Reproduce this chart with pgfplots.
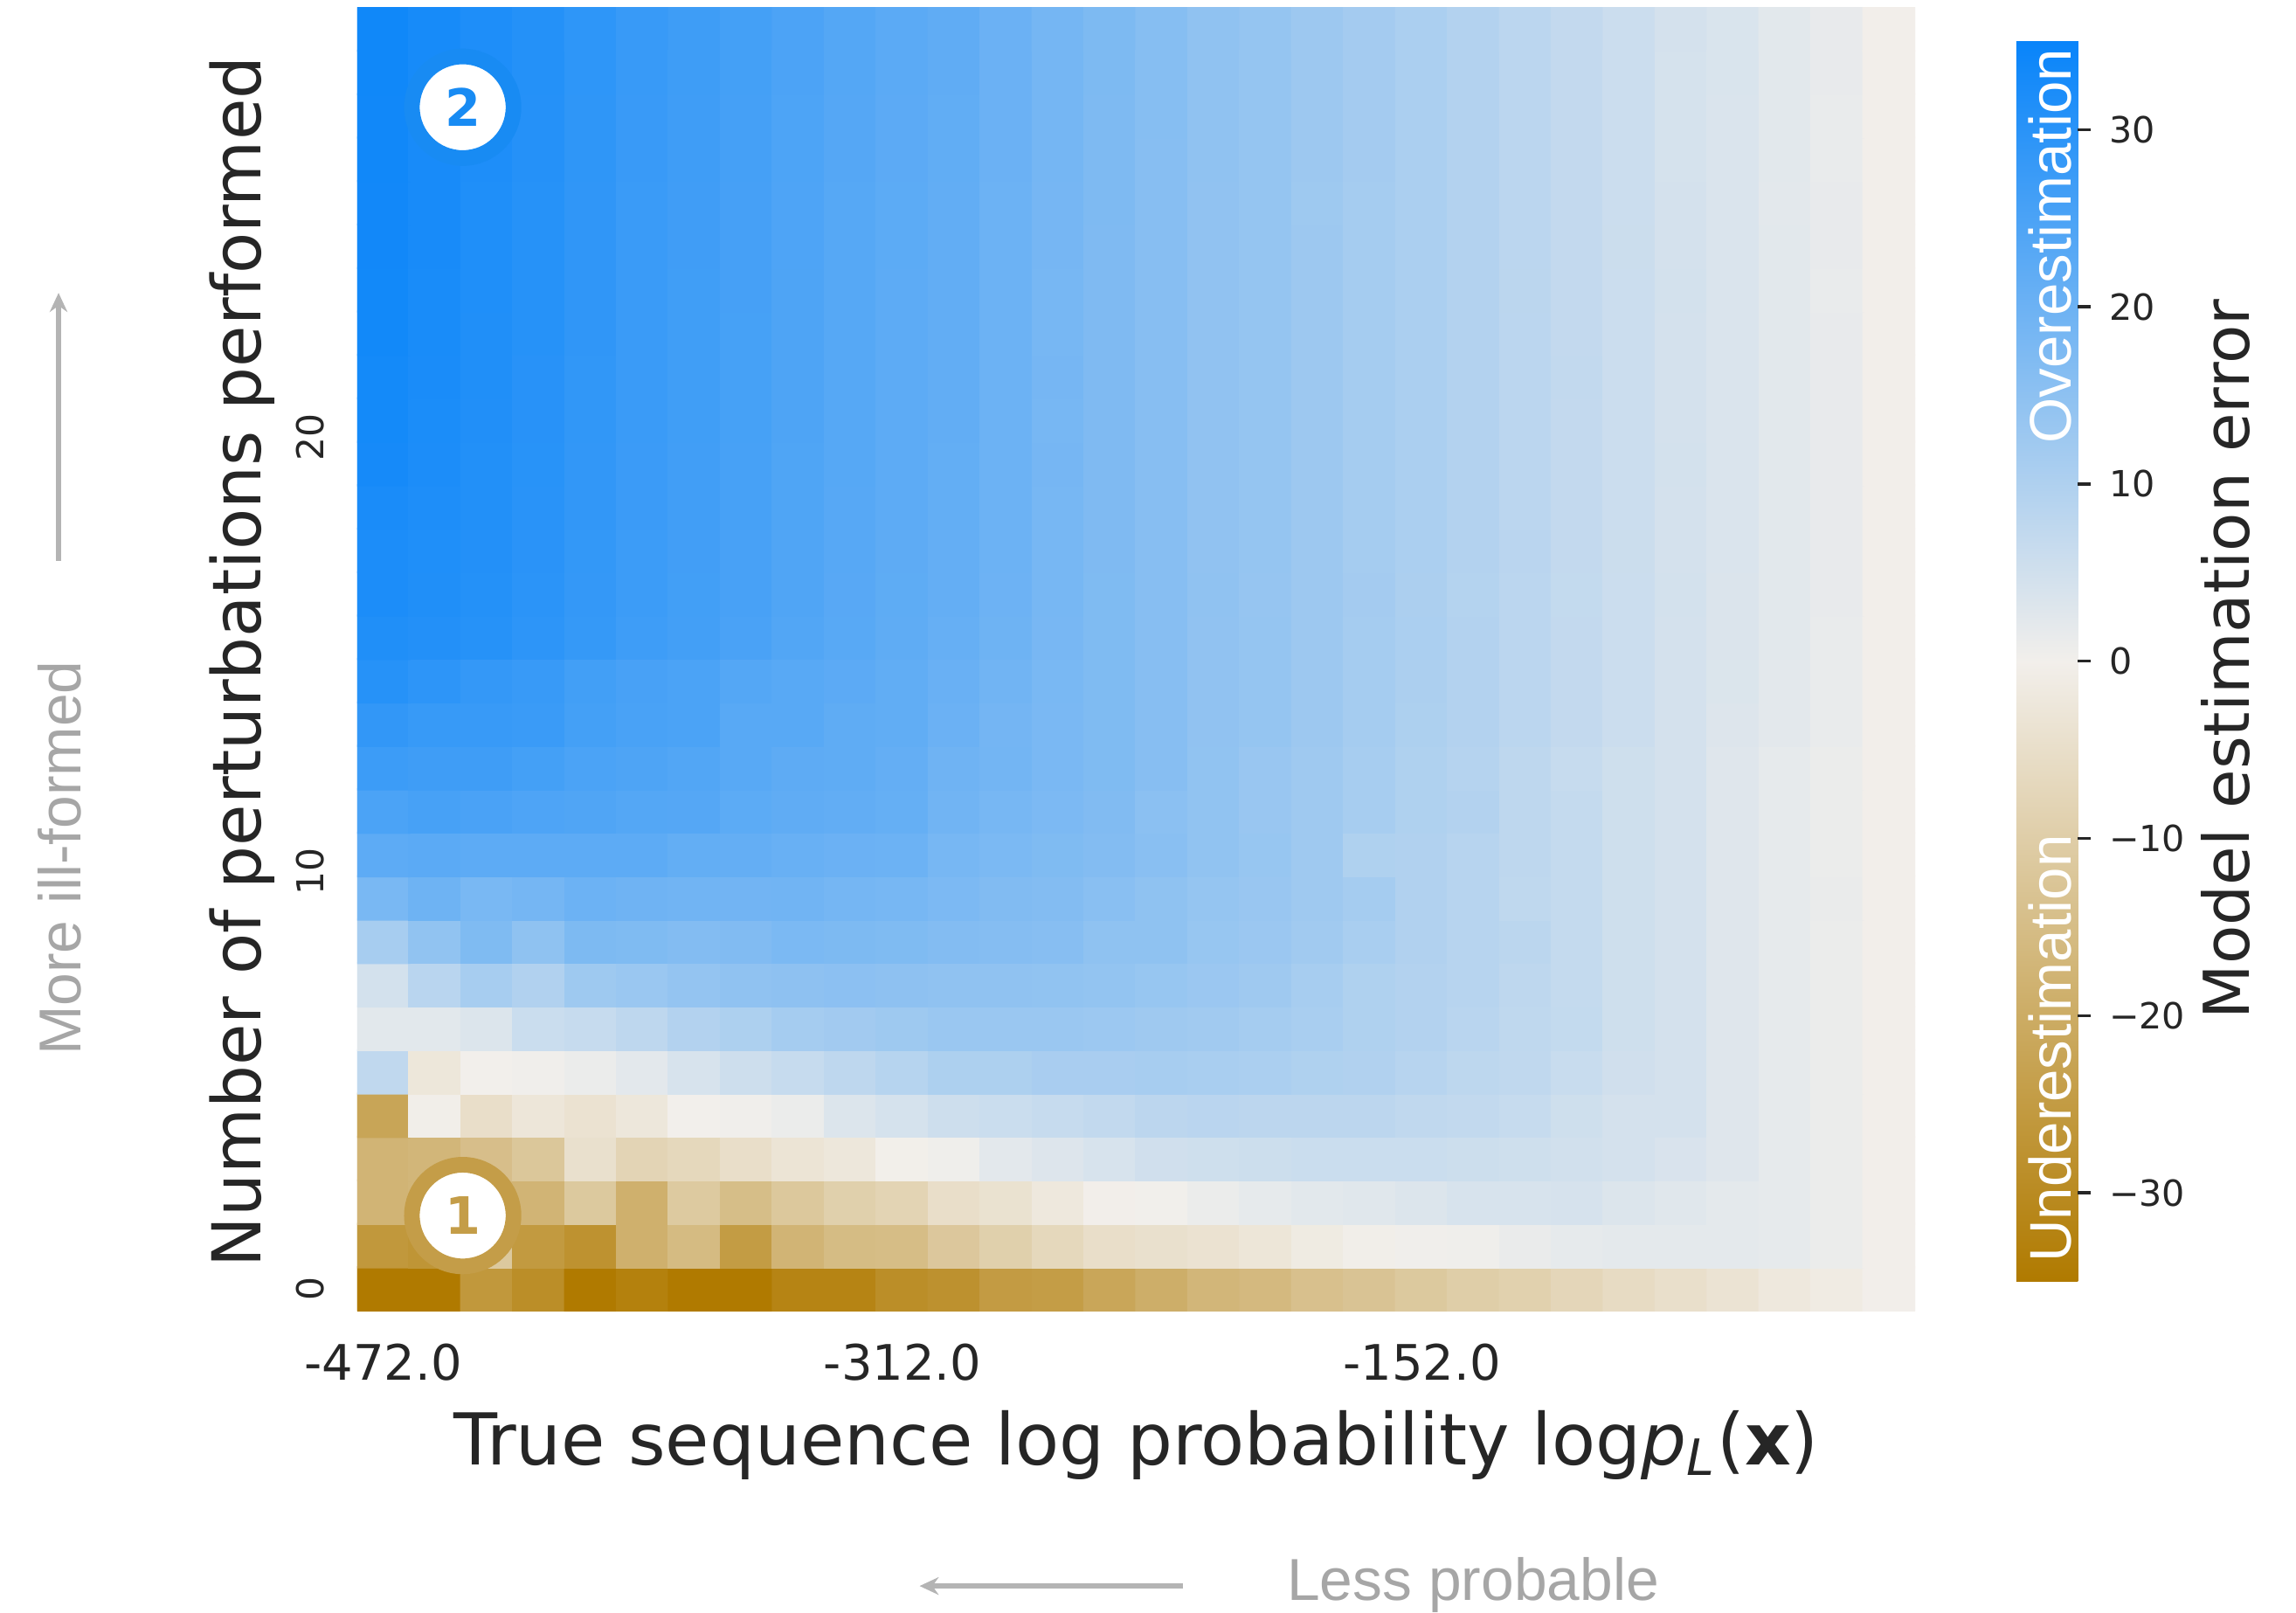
\documentclass[border=0pt]{standalone}
\usepackage{pgfplots}
\pgfplotsset{compat=1.18}
\usepackage{fontspec}
\setmainfont{DejaVu Sans}
\newfontfamily\lib{Liberation Sans}
\usetikzlibrary{arrows.meta}
\definecolor{ringgold}{RGB}{196,157,72}
\definecolor{ringblue}{RGB}{24,139,243}
\definecolor{annot}{RGB}{166,166,166}
\definecolor{arrowgray}{RGB}{180,180,180}
\definecolor{txt}{RGB}{38,38,38}
\begin{document}
\begin{tikzpicture}
\path[use as bounding box] (-2.44,-2.06) rectangle (13.24,8.95);
% matrix plot draws its axis with y dir=reverse; rows are therefore stored as -row
\begin{axis}[
 at={(0,0)}, anchor=south west, scale only axis,
 width=10.64cm, height=8.90cm,
 y dir=reverse,
 xmin=-0.5, xmax=29.5, ymin=-29.5, ymax=0.5,
 axis line style={draw=none},
 major tick length=0pt,
 xtick={0,10,20}, xticklabels={-472.0,-312.0,-152.0},
 ytick={-19.6,-9.6,0}, yticklabels={20,10,0},
 xticklabel style={font=\fontsize{9.5}{11}\selectfont, text=txt, anchor=center, yshift=-0.35cm},
 yticklabel style={font=\fontsize{7.2}{9}\selectfont, text=txt, xshift=-0.32cm, rotate=90, anchor=center},
 xlabel={True sequence log probability log\textit{p}\textsubscript{\textit{L}}(\textbf{x})},
 ylabel={Number of perturbations performed},
 xlabel style={font=\fontsize{13.9}{16}\selectfont, text=txt, at={(axis description cs:0.5,-0.118)}, anchor=base},
 ylabel style={font=\fontsize{13.1}{15}\selectfont, text=txt, at={(axis description cs:-0.062,0.4978)}, anchor=base},
 colormap={estim}{rgb255=(176,122,0) rgb255=(242,239,235) rgb255=(8,132,250)},
 point meta min=-35, point meta max=35,
 colorbar,
 colorbar style={
   at={(parent axis.north east)}, anchor=north west, xshift=0.39cm, yshift=-0.23cm,
   scale only axis, width=0.42cm, height=8.47cm,
   axis line style={draw=none},
   ytick={-30,-20,-10,0,10,20,30},
   yticklabels={−30,−20,−10,0,10,20,30},
   yticklabel style={font=\fontsize{7}{8}\selectfont, text=txt},
   major tick length=0.09cm,
   tick align=outside,
   ytick pos=right,
   ytick style={draw=txt, line width=0.6pt},
 },
]
\addplot[matrix plot, mesh/cols=30, point meta=explicit, y filter/.expression={-y}] coordinates {
(0,0)[-35] (1,0)[-35] (2,0)[-26] (3,0)[-29] (4,0)[-35] (5,0)[-33] (6,0)[-35] (7,0)[-35] (8,0)[-32] (9,0)[-32] (10,0)[-29] (11,0)[-28] (12,0)[-25] (13,0)[-24.5] (14,0)[-21.8] (15,0)[-19.4] (16,0)[-17] (17,0)[-16] (18,0)[-14] (19,0)[-13] (20,0)[-11.5] (21,0)[-10] (22,0)[-9] (23,0)[-7.5] (24,0)[-6] (25,0)[-4.8] (26,0)[-3.5] (27,0)[-2] (28,0)[-1.2] (29,0)[-0.2]
(0,1)[-26] (1,1)[-27] (2,1)[-11.5] (3,1)[-25.4] (4,1)[-27.8] (5,1)[-18.8] (6,1)[-15.6] (7,1)[-24.8] (8,1)[-17.6] (9,1)[-15.3] (10,1)[-15] (11,1)[-11.8] (12,1)[-9.4] (13,1)[-7] (14,1)[-5] (15,1)[-4.5] (16,1)[-3.8] (17,1)[-2.8] (18,1)[-1.3] (19,1)[-0.3] (20,1)[0.3] (21,1)[0.5] (22,1)[1.2] (23,1)[1.8] (24,1)[2.1] (25,1)[2.1] (26,1)[2.1] (27,1)[1.8] (28,1)[1] (29,1)[-0.2]
(0,2)[-17.6] (1,2)[-17] (2,2)[-16] (3,2)[-17.6] (4,2)[-11.4] (5,2)[-18.8] (6,2)[-11.1] (7,2)[-14.7] (8,2)[-11.7] (9,2)[-9.3] (10,2)[-8.1] (11,2)[-5] (12,2)[-4] (13,2)[-2] (14,2)[-0.2] (15,2)[0.1] (16,2)[1] (17,2)[1.8] (18,2)[2.4] (19,2)[2.7] (20,2)[3.3] (21,2)[4] (22,2)[4] (23,2)[4.2] (24,2)[3.3] (25,2)[2.7] (26,2)[2.1] (27,2)[1.8] (28,2)[1] (29,2)[-0.2]
(0,3)[-17.6] (1,3)[-17] (2,3)[-14.5] (3,3)[-12] (4,3)[-4.5] (5,3)[-8] (6,3)[-7] (7,3)[-5] (8,3)[-3.2] (9,3)[-2.4] (10,3)[-0.1] (11,3)[0.5] (12,3)[2.2] (13,3)[3.2] (14,3)[4] (15,3)[5.1] (16,3)[5.4] (17,3)[5.7] (18,3)[6] (19,3)[6] (20,3)[6] (21,3)[5.7] (22,3)[5.4] (23,3)[5] (24,3)[4.5] (25,3)[3.8] (26,3)[2.8] (27,3)[1.8] (28,3)[1] (29,3)[-0.2]
(0,4)[-22] (1,4)[-0.3] (2,4)[-5] (3,4)[-2.7] (4,4)[-3.9] (5,4)[-2.4] (6,4)[0] (7,4)[0.3] (8,4)[1] (9,4)[3.3] (10,4)[4.3] (11,4)[5.5] (12,4)[6] (13,4)[6.6] (14,4)[7.2] (15,4)[8.1] (16,4)[8.4] (17,4)[8.1] (18,4)[8.1] (19,4)[8.1] (20,4)[7.5] (21,4)[7.2] (22,4)[6.6] (23,4)[5.4] (24,4)[4.5] (25,4)[4.5] (26,4)[2.8] (27,4)[1.8] (28,4)[1] (29,4)[-0.2]
(0,5)[7.5] (1,5)[-2.5] (2,5)[0] (3,5)[0.3] (4,5)[1] (5,5)[2.2] (6,5)[4] (7,5)[5.5] (8,5)[6.6] (9,5)[7.8] (10,5)[9] (11,5)[10.3] (12,5)[10.3] (13,5)[11] (14,5)[11] (15,5)[11.2] (16,5)[10.9] (17,5)[10.6] (18,5)[10] (19,5)[9.7] (20,5)[8.8] (21,5)[7.9] (22,5)[7.5] (23,5)[6.3] (24,5)[5.1] (25,5)[4.5] (26,5)[2.8] (27,5)[1.8] (28,5)[1] (29,5)[-0.2]
(0,6)[2.4] (1,6)[2.4] (2,6)[3.3] (3,6)[6] (4,6)[6.6] (5,6)[7.8] (6,6)[9.4] (7,6)[10.3] (8,6)[11.5] (9,6)[12] (10,6)[12.6] (11,6)[13.2] (12,6)[13.2] (13,6)[13.2] (14,6)[12.9] (15,6)[12.4] (16,6)[12.1] (17,6)[11.5] (18,6)[10.9] (19,6)[10] (20,6)[9.4] (21,6)[8.5] (22,6)[7.6] (23,6)[7] (24,6)[5.4] (25,6)[4.5] (26,6)[2.8] (27,6)[1.8] (28,6)[1] (29,6)[-0.2]
(0,7)[4.7] (1,7)[8.6] (2,7)[11.2] (3,7)[9.7] (4,7)[12.6] (5,7)[13.2] (6,7)[14.1] (7,7)[14.7] (8,7)[15] (9,7)[15.3] (10,7)[15] (11,7)[14.7] (12,7)[14.7] (13,7)[14.5] (14,7)[14.2] (15,7)[13.6] (16,7)[13] (17,7)[12.4] (18,7)[11.2] (19,7)[10] (20,7)[9.4] (21,7)[8.8] (22,7)[7.8] (23,7)[6.9] (24,7)[5.4] (25,7)[4.5] (26,7)[2.8] (27,7)[1.8] (28,7)[1] (29,7)[-0.2]
(0,8)[11.2] (1,8)[14.5] (2,8)[17.2] (3,8)[14.8] (4,8)[17.5] (5,8)[17.2] (6,8)[16.6] (7,8)[16.9] (8,8)[17.8] (9,8)[17.5] (10,8)[17.2] (11,8)[16.6] (12,8)[16.3] (13,8)[16] (14,8)[14.9] (15,8)[14.8] (16,8)[13.6] (17,8)[13] (18,8)[12.1] (19,8)[10.9] (20,8)[9.7] (21,8)[8.8] (22,8)[8.2] (23,8)[6.9] (24,8)[5.4] (25,8)[4.5] (26,8)[2.8] (27,8)[1.8] (28,8)[1] (29,8)[-0.2]
(0,9)[18.1] (1,9)[19.8] (2,9)[18.1] (3,9)[18.8] (4,9)[20] (5,9)[19.7] (6,9)[19.4] (7,9)[19.2] (8,9)[19.4] (9,9)[18.8] (10,9)[18.5] (11,9)[17.7] (12,9)[16.9] (13,9)[16.6] (14,9)[15.8] (15,9)[14.8] (16,9)[13.9] (17,9)[13.3] (18,9)[12.4] (19,9)[11.5] (20,9)[9.7] (21,9)[8.8] (22,9)[7.6] (23,9)[6.9] (24,9)[5.4] (25,9)[4.5] (26,9)[2.8] (27,9)[1.8] (28,9)[1.2] (29,9)[-0.2]
(0,10)[22.3] (1,10)[22.6] (2,10)[22.3] (3,10)[22.3] (4,10)[22.3] (5,10)[22.3] (6,10)[21.4] (7,10)[21.2] (8,10)[20.7] (9,10)[20.3] (10,10)[20] (11,10)[18.4] (12,10)[17.8] (13,10)[17.2] (14,10)[16.6] (15,10)[15.7] (16,10)[14.5] (17,10)[13.6] (18,10)[12.4] (19,10)[10] (20,10)[9.7] (21,10)[8.8] (22,10)[7.8] (23,10)[6.9] (24,10)[5.4] (25,10)[4.5] (26,10)[2.8] (27,10)[1.8] (28,10)[1] (29,10)[-0.2]
(0,11)[25] (1,11)[25.6] (2,11)[25.2] (3,11)[24.6] (4,11)[24.2] (5,11)[23.7] (6,11)[23.5] (7,11)[22.4] (8,11)[21.8] (9,11)[21.5] (10,11)[21.1] (11,11)[19.4] (12,11)[18.4] (13,11)[17.7] (14,11)[17] (15,11)[15.5] (16,11)[14.5] (17,11)[13.3] (18,11)[12.4] (19,11)[11.2] (20,11)[10] (21,11)[9.4] (22,11)[7.8] (23,11)[6.9] (24,11)[5.4] (25,11)[4.5] (26,11)[2.8] (27,11)[1.8] (28,11)[1] (29,11)[-0.2]
(0,12)[27.3] (1,12)[26.8] (2,12)[26.8] (3,12)[26] (4,12)[25] (5,12)[24.5] (6,12)[24] (7,12)[23] (8,12)[22.2] (9,12)[22] (10,12)[21.3] (11,12)[19.6] (12,12)[19] (13,12)[18] (14,12)[17.2] (15,12)[16] (16,12)[14.5] (17,12)[13.3] (18,12)[12.4] (19,12)[11.2] (20,12)[10] (21,12)[9.1] (22,12)[7.8] (23,12)[6.6] (24,12)[5.4] (25,12)[4.5] (26,12)[2.8] (27,12)[1.8] (28,12)[1] (29,12)[-0.2]
(0,13)[28.8] (1,13)[28] (2,13)[27.8] (3,13)[27.5] (4,13)[26] (5,13)[25.3] (6,13)[25] (7,13)[23] (8,13)[23] (9,13)[22] (10,13)[21.7] (11,13)[20.3] (12,13)[18.9] (13,13)[18] (14,13)[17.2] (15,13)[16.1] (16,13)[14.6] (17,13)[13.9] (18,13)[12.7] (19,13)[11.6] (20,13)[10.3] (21,13)[9.4] (22,13)[8.3] (23,13)[7.1] (24,13)[5.9] (25,13)[4.5] (26,13)[3.2] (27,13)[2.2] (28,13)[1.3] (29,13)[-0.2]
(0,14)[30.5] (1,14)[29.5] (2,14)[28.5] (3,14)[27.8] (4,14)[26.3] (5,14)[25.5] (6,14)[25] (7,14)[23.7] (8,14)[23] (9,14)[22.5] (10,14)[21.7] (11,14)[20.5] (12,14)[19.3] (13,14)[18.1] (14,14)[17.2] (15,14)[16.1] (16,14)[14.6] (17,14)[13.9] (18,14)[12.7] (19,14)[11.6] (20,14)[10.5] (21,14)[9.4] (22,14)[8.3] (23,14)[7.1] (24,14)[5.9] (25,14)[4.5] (26,14)[3.4] (27,14)[2.3] (28,14)[1.4] (29,14)[-0.2]
(0,15)[31.5] (1,15)[31] (2,15)[30.5] (3,15)[29.5] (4,15)[28.3] (5,15)[27] (6,15)[26.2] (7,15)[25.2] (8,15)[24] (9,15)[23] (10,15)[22] (11,15)[21] (12,15)[19.8] (13,15)[18.3] (14,15)[17.2] (15,15)[16.1] (16,15)[14.6] (17,15)[13.9] (18,15)[12.8] (19,15)[11.6] (20,15)[10.6] (21,15)[9.4] (22,15)[8.3] (23,15)[7.1] (24,15)[5.9] (25,15)[4.5] (26,15)[3.5] (27,15)[2.4] (28,15)[1.4] (29,15)[-0.2]
(0,16)[32] (1,16)[31.5] (2,16)[30.8] (3,16)[29.8] (4,16)[28.5] (5,16)[27.2] (6,16)[26.3] (7,16)[25.4] (8,16)[24.2] (9,16)[23.1] (10,16)[22.1] (11,16)[21.2] (12,16)[19.9] (13,16)[18.4] (14,16)[17.2] (15,16)[16.1] (16,16)[14.7] (17,16)[13.8] (18,16)[12.7] (19,16)[11.7] (20,16)[10.5] (21,16)[9.3] (22,16)[8.3] (23,16)[7] (24,16)[5.9] (25,16)[4.6] (26,16)[3.5] (27,16)[2.4] (28,16)[1.5] (29,16)[-0.2]
(0,17)[32] (1,17)[31.6] (2,17)[31] (3,17)[30] (4,17)[28.6] (5,17)[27.3] (6,17)[26.4] (7,17)[25.5] (8,17)[24.3] (9,17)[23.2] (10,17)[22.2] (11,17)[21.3] (12,17)[20] (13,17)[18.5] (14,17)[17.3] (15,17)[16] (16,17)[14.6] (17,17)[13.9] (18,17)[12.7] (19,17)[11.6] (20,17)[10.6] (21,17)[9.4] (22,17)[8.4] (23,17)[7.1] (24,17)[5.8] (25,17)[4.5] (26,17)[3.6] (27,17)[2.4] (28,17)[1.5] (29,17)[-0.2]
(0,18)[32.3] (1,18)[31.8] (2,18)[31.1] (3,18)[30.1] (4,18)[28.7] (5,18)[27.4] (6,18)[26.5] (7,18)[25.6] (8,18)[24.4] (9,18)[23.2] (10,18)[22.3] (11,18)[21.4] (12,18)[20] (13,18)[18.5] (14,18)[17.3] (15,18)[16.1] (16,18)[14.6] (17,18)[13.9] (18,18)[12.7] (19,18)[11.6] (20,18)[10.6] (21,18)[9.4] (22,18)[8.3] (23,18)[7.1] (24,18)[5.9] (25,18)[4.5] (26,18)[3.6] (27,18)[2.4] (28,18)[1.5] (29,18)[-0.2]
(0,19)[33] (1,19)[32] (2,19)[31.2] (3,19)[30.2] (4,19)[28.8] (5,19)[27.4] (6,19)[26.5] (7,19)[25.6] (8,19)[24.4] (9,19)[23.3] (10,19)[22.3] (11,19)[21.4] (12,19)[20.1] (13,19)[18.6] (14,19)[17.3] (15,19)[16.1] (16,19)[14.6] (17,19)[13.9] (18,19)[12.7] (19,19)[11.6] (20,19)[10.6] (21,19)[9.4] (22,19)[8.3] (23,19)[7.1] (24,19)[5.9] (25,19)[4.6] (26,19)[3.6] (27,19)[2.4] (28,19)[1.5] (29,19)[-0.2]
(0,20)[33.2] (1,20)[32.2] (2,20)[31.3] (3,20)[30.3] (4,20)[28.9] (5,20)[27.5] (6,20)[26.6] (7,20)[25.7] (8,20)[24.5] (9,20)[23.3] (10,20)[22.3] (11,20)[21.5] (12,20)[20] (13,20)[18.5] (14,20)[17.3] (15,20)[16.1] (16,20)[14.6] (17,20)[13.9] (18,20)[12.7] (19,20)[11.6] (20,20)[10.6] (21,20)[9.4] (22,20)[8.3] (23,20)[7.1] (24,20)[5.9] (25,20)[4.5] (26,20)[3.6] (27,20)[2.4] (28,20)[1.5] (29,20)[-0.2]
(0,21)[33.2] (1,21)[32.3] (2,21)[31.4] (3,21)[30.3] (4,21)[28.9] (5,21)[27.5] (6,21)[26.6] (7,21)[25.7] (8,21)[24.5] (9,21)[23.3] (10,21)[22.3] (11,21)[21.5] (12,21)[20] (13,21)[18.6] (14,21)[17.3] (15,21)[16.1] (16,21)[14.6] (17,21)[13.9] (18,21)[12.7] (19,21)[11.6] (20,21)[10.6] (21,21)[9.4] (22,21)[8.3] (23,21)[7.2] (24,21)[5.9] (25,21)[4.5] (26,21)[3.6] (27,21)[2.4] (28,21)[1.5] (29,21)[-0.2]
(0,22)[33.5] (1,22)[32.5] (2,22)[31.5] (3,22)[30.5] (4,22)[29] (5,22)[27.5] (6,22)[26.6] (7,22)[25.7] (8,22)[24.5] (9,22)[23.3] (10,22)[22.3] (11,22)[21.5] (12,22)[20] (13,22)[18.5] (14,22)[17.3] (15,22)[16.1] (16,22)[14.6] (17,22)[13.9] (18,22)[12.7] (19,22)[11.6] (20,22)[10.6] (21,22)[9.4] (22,22)[8.3] (23,22)[7.1] (24,22)[5.9] (25,22)[4.5] (26,22)[3.6] (27,22)[2.4] (28,22)[1.5] (29,22)[-0.2]
(0,23)[33.5] (1,23)[32.5] (2,23)[31.6] (3,23)[30.5] (4,23)[29] (5,23)[27.6] (6,23)[26.6] (7,23)[25.8] (8,23)[24.5] (9,23)[23.3] (10,23)[22.3] (11,23)[21.5] (12,23)[20.1] (13,23)[18.5] (14,23)[17.3] (15,23)[16.1] (16,23)[14.6] (17,23)[13.9] (18,23)[12.7] (19,23)[11.6] (20,23)[10.6] (21,23)[9.4] (22,23)[8.2] (23,23)[7.1] (24,23)[5.9] (25,23)[4.6] (26,23)[3.6] (27,23)[2.4] (28,23)[1.4] (29,23)[-0.2]
(0,24)[33.6] (1,24)[32.6] (2,24)[31.6] (3,24)[30.6] (4,24)[29.1] (5,24)[27.6] (6,24)[26.7] (7,24)[25.8] (8,24)[24.6] (9,24)[23.4] (10,24)[22.4] (11,24)[21.6] (12,24)[20.1] (13,24)[18.6] (14,24)[17.3] (15,24)[16.1] (16,24)[14.6] (17,24)[13.9] (18,24)[12.7] (19,24)[11.6] (20,24)[10.6] (21,24)[9.4] (22,24)[8.3] (23,24)[7.1] (24,24)[5.8] (25,24)[4.5] (26,24)[3.6] (27,24)[2.4] (28,24)[1.5] (29,24)[-0.2]
(0,25)[33.6] (1,25)[32.6] (2,25)[31.6] (3,25)[30.6] (4,25)[29.1] (5,25)[27.6] (6,25)[26.7] (7,25)[25.8] (8,25)[24.6] (9,25)[23.4] (10,25)[22.4] (11,25)[21.6] (12,25)[20.1] (13,25)[18.6] (14,25)[17.4] (15,25)[16.1] (16,25)[14.6] (17,25)[13.9] (18,25)[12.6] (19,25)[11.6] (20,25)[10.6] (21,25)[9.4] (22,25)[8.3] (23,25)[7.1] (24,25)[5.9] (25,25)[4.5] (26,25)[3.6] (27,25)[2.3] (28,25)[1.5] (29,25)[-0.2]
(0,26)[33.7] (1,26)[32.7] (2,26)[31.7] (3,26)[30.7] (4,26)[29.2] (5,26)[27.7] (6,26)[26.8] (7,26)[25.9] (8,26)[24.7] (9,26)[23.5] (10,26)[22.5] (11,26)[21.7] (12,26)[20.2] (13,26)[18.7] (14,26)[17.4] (15,26)[16.1] (16,26)[14.7] (17,26)[13.9] (18,26)[12.7] (19,26)[11.7] (20,26)[10.6] (21,26)[9.4] (22,26)[8.3] (23,26)[7.1] (24,26)[5.9] (25,26)[4.4] (26,26)[3.6] (27,26)[2.4] (28,26)[1.4] (29,26)[-0.2]
(0,27)[33.7] (1,27)[32.7] (2,27)[31.7] (3,27)[30.7] (4,27)[29.2] (5,27)[27.7] (6,27)[26.8] (7,27)[25.9] (8,27)[24.7] (9,27)[23.5] (10,27)[22.5] (11,27)[21.7] (12,27)[20.2] (13,27)[18.7] (14,27)[17.4] (15,27)[16.2] (16,27)[14.7] (17,27)[13.9] (18,27)[12.7] (19,27)[11.7] (20,27)[10.6] (21,27)[9.4] (22,27)[8.3] (23,27)[7.1] (24,27)[5.9] (25,27)[4.3] (26,27)[3.6] (27,27)[2.4] (28,27)[1.4] (29,27)[-0.2]
(0,28)[33.8] (1,28)[32.8] (2,28)[31.8] (3,28)[30.8] (4,28)[29.3] (5,28)[27.8] (6,28)[26.9] (7,28)[26] (8,28)[24.8] (9,28)[23.6] (10,28)[22.6] (11,28)[21.8] (12,28)[20.3] (13,28)[18.8] (14,28)[17.5] (15,28)[16.2] (16,28)[14.7] (17,28)[13.9] (18,28)[12.7] (19,28)[11.7] (20,28)[10.6] (21,28)[9.4] (22,28)[8.3] (23,28)[7.1] (24,28)[5.9] (25,28)[4.4] (26,28)[3.7] (27,28)[2.4] (28,28)[1.5] (29,28)[-0.2]
(0,29)[33.8] (1,29)[32.8] (2,29)[31.8] (3,29)[30.8] (4,29)[29.3] (5,29)[27.8] (6,29)[26.9] (7,29)[26] (8,29)[24.8] (9,29)[23.6] (10,29)[22.6] (11,29)[21.8] (12,29)[20.3] (13,29)[18.8] (14,29)[17.5] (15,29)[16.2] (16,29)[14.7] (17,29)[13.9] (18,29)[12.7] (19,29)[11.7] (20,29)[10.6] (21,29)[9.4] (22,29)[8.3] (23,29)[7.1] (24,29)[5.9] (25,29)[4.5] (26,29)[3.7] (27,29)[2.4] (28,29)[1.5] (29,29)[-0.2]
};
\node[circle, fill=white, draw=ringgold, line width=0.107cm, minimum size=0.694cm, inner sep=0pt, text=ringgold, font=\bfseries\fontsize{10}{12}\selectfont] at (axis cs:1.53,-1.69) {1};
\node[circle, fill=white, draw=ringblue, line width=0.107cm, minimum size=0.694cm, inner sep=0pt, text=ringblue, font=\bfseries\fontsize{10}{12}\selectfont] at (axis cs:1.53,-27.2) {2};
\end{axis}
% colorbar annotations
\node[rotate=90, text=white, font=\lib\fontsize{11.4}{13}\selectfont, anchor=center] at (11.56,7.27) {Overestimation};
\node[rotate=90, text=white, font=\lib\fontsize{11.4}{13}\selectfont, anchor=center] at (11.56,1.79) {Underestimation};
\node[rotate=90, text=txt, font=\fontsize{12.3}{14}\selectfont, anchor=base] at (12.92,4.45) {Model estimation error};
% side annotations
\node[rotate=90, text=annot, font=\lib\fontsize{11.5}{13}\selectfont, anchor=center] at (-2.03,3.09) {More ill-formed};
\draw[arrowgray, line width=0.034cm, -{Stealth[length=0.13cm,width=0.12cm]}] (-2.04,5.12) -- (-2.04,6.95);
\node[text=annot, font=\lib\fontsize{11.5}{13}\selectfont, anchor=base] at (7.62,-1.98) {Less probable};
\draw[arrowgray, line width=0.034cm, -{Stealth[length=0.13cm,width=0.12cm]}] (5.64,-1.88) -- (3.84,-1.88);
\end{tikzpicture}
\end{document}
